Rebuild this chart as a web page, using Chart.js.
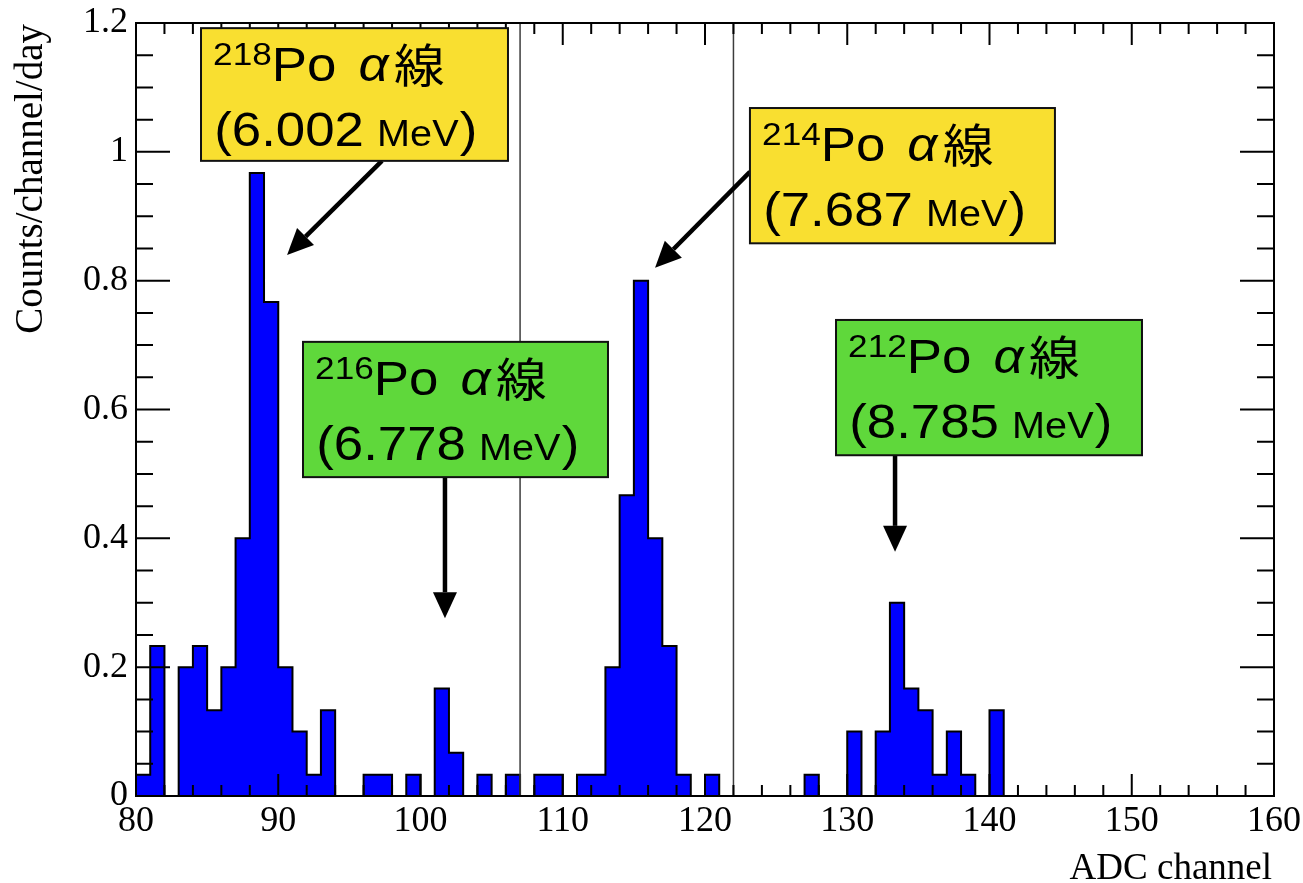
<!DOCTYPE html>
<html>
<head>
<meta charset="utf-8">
<script src="https://cdn.jsdelivr.net/npm/chart.js@4/dist/chart.umd.min.js"></script>
<style>
  html, body { margin: 0; padding: 0; background: #fff; }
  #wrap { width: 1303px; height: 883px; }
</style>
</head>
<body>
<div id="wrap"><canvas id="adc" width="1303" height="883"></canvas></div>
<script>
// histogram: one bin per ADC channel, first bin starts at channel 80
const firstChannel = 80;
const lastChannel = 160;
const countsPerDay = [
  0.033, 0.233, 0,     0.2,   0.233, 0.133, 0.2,   0.4,   0.967, 0.767, // 80-89
  0.2,   0.1,   0.033, 0.133, 0,     0,     0.033, 0.033, 0,     0.033, // 90-99
  0,     0.167, 0.067, 0,     0.033, 0,     0.033, 0,     0.033, 0.033, // 100-109
  0,     0.033, 0.033, 0.2,   0.467, 0.8,   0.4,   0.233, 0.033, 0,     // 110-119
  0.033, 0,     0,     0,     0,     0,     0,     0.033, 0,     0,     // 120-129
  0.1,   0,     0.1,   0.3,   0.167, 0.133, 0.033, 0.1,   0.033, 0,     // 130-139
  0.133, 0,     0,     0,     0,     0,     0,     0,     0,     0,     // 140-149
  0,     0,     0,     0,     0,     0,     0,     0,     0,     0      // 150-159
];

const xTicks = [80, 90, 100, 110, 120, 130, 140, 150, 160];
const yTicks = [0, 0.2, 0.4, 0.6, 0.8, 1, 1.2];
const xMinorStep = 2;
const yMinorStep = 0.05;

const markerChannels = [107, 122];

const peakIsotopes = ['218', '216', '214', '212'];
const peakEnergies = ['6.002', '6.778', '7.687', '8.785'];
const peakColors = ['#f9df30', '#5fd83b', '#f9df30', '#5fd83b'];
// label boxes in data units: [left ch, right ch, top value, bottom value]
const peakBoxes = [
  [84.57, 106.15, 1.192, 0.986],
  [91.74, 113.18, 0.705, 0.495],
  [123.16, 144.60, 1.068, 0.858],
  [129.21, 150.72, 0.739, 0.529]
];
// arrows in data units: [from ch, from value, to ch, to value]
const peakArrows = [
  [97.29, 0.986, 90.62, 0.840],
  [101.72, 0.495, 101.72, 0.276],
  [123.16, 0.969, 116.49, 0.820],
  [133.36, 0.529, 133.36, 0.379]
];

const serif = '"Liberation Serif", "DejaVu Serif", serif';
const sans = '"Liberation Sans", Arial, sans-serif';
const cjk = '"Noto Sans CJK JP", sans-serif';

const histPoints = countsPerDay.map((v, i) => ({ x: firstChannel + i, y: v }));
histPoints.push({ x: lastChannel, y: 0 });

function drawArrow(ctx, x1, y1, x2, y2) {
  const ang = Math.atan2(y2 - y1, x2 - x1);
  const head = 26, half = 12;
  const bx = x2 - head * Math.cos(ang), by = y2 - head * Math.sin(ang);
  ctx.lineWidth = 4.5;
  ctx.beginPath();
  ctx.moveTo(x1, y1);
  ctx.lineTo(bx, by);
  ctx.stroke();
  ctx.beginPath();
  ctx.moveTo(x2, y2);
  ctx.lineTo(bx + half * Math.sin(ang), by - half * Math.cos(ang));
  ctx.lineTo(bx - half * Math.sin(ang), by + half * Math.cos(ang));
  ctx.closePath();
  ctx.fill();
}

function drawLabel(ctx, left, top, iso, energy) {
  const sx = 1.1;
  ctx.save();
  ctx.translate(left, top);
  ctx.scale(sx, 1);
  ctx.fillStyle = '#000';
  ctx.textAlign = 'left';
  ctx.textBaseline = 'alphabetic';
  // line 1
  let x = 11;
  ctx.font = `32px ${sans}`;
  ctx.fillText(iso, x, 37);
  x += ctx.measureText(iso).width;
  ctx.font = `48px ${sans}`;
  ctx.fillText('Po', x, 53);
  x += ctx.measureText('Po').width + 20;
  ctx.font = `italic 48px ${sans}`;
  ctx.fillText('\u03b1', x, 53);
  x += ctx.measureText('\u03b1').width + 5;
  ctx.font = `46px ${cjk}`;
  ctx.fillText('線', x, 54);
  // line 2
  x = 12;
  ctx.font = `48px ${sans}`;
  const t = '(' + energy;
  ctx.fillText(t, x, 118);
  x += ctx.measureText(t).width + 12;
  ctx.font = `36px ${sans}`;
  ctx.fillText('MeV', x, 118);
  x += ctx.measureText('MeV').width + 1;
  ctx.font = `48px ${sans}`;
  ctx.fillText(')', x, 118);
  ctx.restore();
}

const decorations = {
  id: 'decorations',
  afterDatasetsDraw(chart) {
    const { ctx, chartArea: a, scales: { x, y } } = chart;
    ctx.save();
    ctx.lineCap = 'butt';

    // channel markers
    ctx.strokeStyle = '#3c3c3c';
    ctx.lineWidth = 1.5;
    markerChannels.forEach(c => {
      const px = x.getPixelForValue(c);
      ctx.beginPath();
      ctx.moveTo(px, a.top);
      ctx.lineTo(px, a.bottom);
      ctx.stroke();
    });

    // ticks on all four sides, drawn inward
    ctx.strokeStyle = '#000';
    ctx.lineWidth = 2;
    for (let v = firstChannel; v <= lastChannel; v += xMinorStep) {
      const px = x.getPixelForValue(v);
      const len = xTicks.includes(v) ? 22 : 11;
      ctx.beginPath();
      ctx.moveTo(px, a.bottom); ctx.lineTo(px, a.bottom - len);
      ctx.moveTo(px, a.top); ctx.lineTo(px, a.top + len);
      ctx.stroke();
    }
    for (let i = 0; i <= Math.round(1.2 / yMinorStep); i++) {
      const v = i * yMinorStep;
      const py = y.getPixelForValue(v);
      const len = i % 4 === 0 ? 34 : 17;
      ctx.beginPath();
      ctx.moveTo(a.left, py); ctx.lineTo(a.left + len, py);
      ctx.moveTo(a.right, py); ctx.lineTo(a.right - len, py);
      ctx.stroke();
    }
    ctx.strokeRect(a.left, a.top, a.right - a.left, a.bottom - a.top);

    // peak labels and arrows
    ctx.fillStyle = '#000';
    ctx.strokeStyle = '#000';
    peakArrows.forEach(([c1, v1, c2, v2]) => {
      drawArrow(ctx, x.getPixelForValue(c1), y.getPixelForValue(v1),
                x.getPixelForValue(c2), y.getPixelForValue(v2));
    });
    peakBoxes.forEach(([c1, c2, v1, v2], i) => {
      const l = x.getPixelForValue(c1), r = x.getPixelForValue(c2);
      const t = y.getPixelForValue(v1), b = y.getPixelForValue(v2);
      ctx.fillStyle = peakColors[i];
      ctx.fillRect(l, t, r - l, b - t);
      ctx.strokeStyle = '#111';
      ctx.lineWidth = 2;
      ctx.strokeRect(l, t, r - l, b - t);
      drawLabel(ctx, l, t, peakIsotopes[i], peakEnergies[i]);
    });

    // axis titles
    ctx.fillStyle = '#000';
    ctx.textAlign = 'right';
    ctx.textBaseline = 'alphabetic';
    ctx.font = `37px ${serif}`;
    ctx.fillText('ADC channel', a.right - 2, 879);
    ctx.save();
    ctx.translate(42, 24);
    ctx.rotate(-Math.PI / 2);
    ctx.font = `39px ${serif}`;
    ctx.fillText('Counts/channel/day', 0, 0);
    ctx.restore();

    ctx.restore();
  }
};

new Chart(document.getElementById('adc'), {
  type: 'line',
  data: {
    datasets: [{
      label: 'ADC',
      data: histPoints,
      stepped: 'before',
      fill: 'origin',
      backgroundColor: '#0000ff',
      borderColor: '#000',
      borderWidth: 2,
      pointRadius: 0,
      tension: 0
    }]
  },
  options: {
    responsive: false,
    animation: false,
    devicePixelRatio: 1,
    layout: { padding: { left: 0, right: 29, top: 23, bottom: 0 } },
    plugins: {
      legend: { display: false },
      tooltip: { enabled: false }
    },
    scales: {
      x: {
        type: 'linear',
        min: firstChannel,
        max: lastChannel,
        afterFit: s => { s.height = 87; s.paddingLeft = 0; s.paddingRight = 0; },
        afterBuildTicks: s => { s.ticks = xTicks.map(v => ({ value: v })); },
        grid: { display: false, drawTicks: false },
        border: { display: false },
        ticks: {
          autoSkip: false,
          maxRotation: 0,
          padding: 4,
          color: '#000',
          font: { family: serif, size: 36 }
        }
      },
      y: {
        min: 0,
        max: 1.2,
        afterFit: s => { s.width = 136; s.paddingTop = 0; s.paddingBottom = 0; },
        afterBuildTicks: s => { s.ticks = yTicks.map(v => ({ value: v })); },
        grid: { display: false, drawTicks: false },
        border: { display: false },
        ticks: {
          padding: 8,
          color: '#000',
          font: { family: serif, size: 36 },
          callback: v => String(v)
        }
      }
    }
  },
  plugins: [decorations]
});
</script>
</body>
</html>
